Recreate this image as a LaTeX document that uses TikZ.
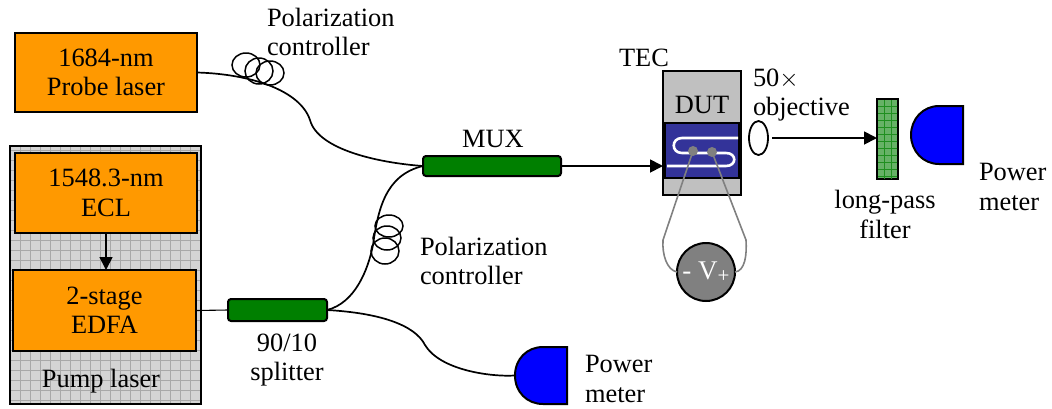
\documentclass[tikz,border=0pt]{standalone}
\usepackage{fontspec}
\setmainfont{Liberation Serif}
\usetikzlibrary{arrows.meta,shapes.geometric}
\definecolor{orangebox}{HTML}{FF9900}
\definecolor{greenbox}{HTML}{007F00}
\definecolor{pumpbg}{HTML}{D4D4D4}
\definecolor{pumpgrid}{HTML}{A8A8A8}
\definecolor{chipblue}{HTML}{333399}
\definecolor{tecgray}{HTML}{C0C0C0}
\definecolor{wiregray}{HTML}{808080}
\definecolor{meterblue}{HTML}{0000FF}
\definecolor{filtergreen}{HTML}{66B266}
\definecolor{filtergrid}{HTML}{1F8F1F}
\tikzset{
  x=1pt,y=-1pt,
  every node/.style={inner sep=0pt,outer sep=0pt},
  label/.style={font=\fontsize{26.4}{29.5}\selectfont,text=black,align=center},
  lasbox/.style={draw=black,line width=2pt,fill=orangebox,align=center,font=\fontsize{26.4}{29.5}\selectfont},
  coupler/.style={draw=black,line width=2pt,fill=greenbox,rounded corners=3pt},
  fiber/.style={draw=black,line width=1.7pt},
  coil/.style={draw=black,line width=1.5pt},
  beam/.style={draw=black,line width=1.8pt,-{Triangle[length=13pt,width=13pt]}},
  wire/.style={draw=wiregray,line width=1.6pt},
  meter/.style={draw=black,line width=2pt,fill=meterblue},
}
\begin{document}
\begin{tikzpicture}
\useasboundingbox (0,0) rectangle (1052,408);
% pump enclosure
\node[draw=black,line width=2pt,fill=pumpbg,minimum width=191pt,minimum height=258pt] (pump) at (105.5,275) {};
\begin{scope}
  \clip (11,147) rectangle (200,403);
  \draw[pumpgrid,line width=.6pt] \foreach \gx in {20,30,...,200} {(\gx,146) -- (\gx,404)};
  \draw[pumpgrid,line width=.6pt] \foreach \gy in {150,160,...,400} {(10,\gy) -- (201,\gy)};
\end{scope}
\node[draw=black,line width=2pt,minimum width=191pt,minimum height=258pt] (pumpframe) at (105.5,275) {};
% lasers
\node[lasbox,minimum width=182pt,minimum height=79pt] (probe) at (106,72.5) {1684-nm\\Probe laser};
\node[lasbox,minimum width=182pt,minimum height=80pt] (ecl) at (106,193) {1548.3-nm\\ECL};
\node[lasbox,minimum width=183pt,minimum height=81pt] (edfa) at (104.5,310.5) {2-stage\\EDFA};
\node[label] (pumplbl) at (101,381) {Pump laser};
% couplers
\node[coupler,minimum width=99pt,minimum height=22pt] (split) at (277.5,310) {};
\node[coupler,minimum width=138pt,minimum height=20pt] (mux) at (492,166) {};
% TEC / DUT
\node[draw=black,line width=2pt,fill=tecgray,minimum width=78pt,minimum height=124pt] (tec) at (702,133) {};
\node[draw=black,line width=1.8pt,fill=chipblue,minimum width=74pt,minimum height=55pt] (chip) at (702,150.5) {};
\draw[white,line width=2.6pt] (738,138) -- (682,138) .. controls (671,138) and (671,153) .. (682,153) -- (726,153) .. controls (737,153) and (737,166) .. (726,166) -- (667,166);
\node[label] (dutlbl) at (702,105) {DUT};
% voltage source
\node[circle,draw=black,line width=2pt,fill=wiregray,minimum size=58pt,text=white,font=\fontsize{27}{27}\selectfont] (volt) at (706,272) {- V\raisebox{-3pt}{\fontsize{21}{21}\selectfont +}};
\node[circle,fill=wiregray,minimum size=10pt] (padl) at (693,151) {};
\node[circle,fill=wiregray,minimum size=10pt] (padr) at (712,152) {};
\draw[wire] (padl.center) -- (663,240) .. controls (662,255) and (667,270) .. (volt.west);
\draw[wire] (padr.center) -- (746,240) .. controls (747,255) and (745,271) .. (volt.east);
% meters
\node[minimum width=52pt,minimum height=57pt] (pmlow) at (541,375.5) {};
\draw[meter] (567,347) -- (567,404) -- (543,404) .. controls (527,404) and (515,392) .. (515,375.5) .. controls (515,359) and (527,347) .. (543,347) -- cycle;
\node[minimum width=52pt,minimum height=58pt] (pmtop) at (937,135) {};
\draw[meter] (963,106) -- (963,164) -- (939,164) .. controls (923,164) and (911,151) .. (911,135) .. controls (911,119) and (923,106) .. (939,106) -- cycle;
% filter
\node[draw=black,line width=2pt,fill=filtergreen,minimum width=21pt,minimum height=80pt] (filter) at (887.5,139) {};
\begin{scope}
  \clip (878,100) rectangle (897,178);
  \draw[filtergrid,line width=.6pt] \foreach \gx in {884,891} {(\gx,99) -- (\gx,179)};
  \draw[filtergrid,line width=.6pt] \foreach \gy in {106,113,...,176} {(877,\gy) -- (898,\gy)};
\end{scope}
% objective
\node[ellipse,draw=black,line width=1.8pt,fill=white,minimum width=19pt,minimum height=34pt] (obj) at (758.5,138) {};
% fibers
\draw[fiber] (probe.east) .. controls (250,74) and (300,90) .. (310,120) .. controls (318,150) and (380,163) .. (mux.west);
\draw[fiber] (split.east) .. controls (355,303) and (368,270) .. (373,245) .. controls (378,210) and (385,175) .. (mux.west);
\draw[fiber,line width=1.1pt] (edfa.east) -- (split.west);
\draw[fiber] (split.east) .. controls (380,313) and (415,325) .. (425,345) .. controls (440,370) and (490,377) .. (pmlow.west);
% coils
\draw[coil] (246,65) ellipse[x radius=14,y radius=12];
\draw[coil] (259,71) ellipse[x radius=14,y radius=13];
\draw[coil] (270,73) ellipse[x radius=14,y radius=12];
\draw[coil] (389,226) ellipse[x radius=14,y radius=11];
\draw[coil] (387,238) ellipse[x radius=14,y radius=12];
\draw[coil] (385,251) ellipse[x radius=14,y radius=13];
% arrows
\draw[beam] (ecl.south) -- (ecl.south |- edfa.north);
\draw[beam] (mux.east) -- (tec.west |- mux.east);
\coordinate (beamstart) at (772,138);
\draw[beam] (beamstart) -- (filter.west |- beamstart);
% labels
\node[label,align=left,anchor=west] (pc1) at (267,32) {Polarization\\controller};
\node[label,align=left,anchor=west] (pc2) at (420,261) {Polarization\\controller};
\node[label] (muxlbl) at (493,139) {MUX};
\node[label] (teclbl) at (644,58) {TEC};
\node[label,align=left,anchor=west] (objlbl) at (753,95) {50$\times$\\objective};
\node[label] (lpf) at (885,214.5) {long-pass\\filter};
\node[label,align=left,anchor=west] (pmlbl1) at (979,187) {Power\\meter};
\node[label] (splbl) at (287,360) {90/10\\splitter};
\node[label,align=left,anchor=west] (pmlbl2) at (585,379) {Power\\meter};
\end{tikzpicture}
\end{document}
